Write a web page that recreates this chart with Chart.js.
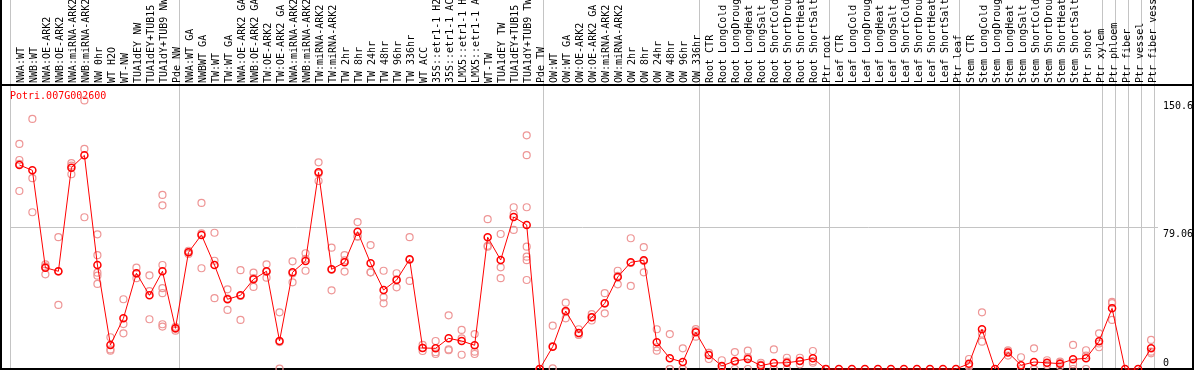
<!DOCTYPE html>
<html>
<head>
<meta charset="utf-8">
<script src="https://cdn.jsdelivr.net/npm/chart.js@4.4.1/dist/chart.umd.min.js"></script>
<style>
    html, body { margin: 0; padding: 0; background: #fff; }
    #wrap { position: relative; width: 1194px; height: 370px; }
</style>
</head>
<body>
<div id="wrap"><canvas id="probeChart"></canvas></div>
<script>
const geneId = 'Potri.007G002600';

const categories = [
    'NWA:WT', 'NWB:WT', 'NWA:OE-ARK2', 'NWB:OE-ARK2', 'NWA:miRNA-ARK2', 'NWB:miRNA-ARK2',
    'NW 0hr', 'WT H2O', 'WT-NW', 'TUA1dEY NW', 'TUA1dEY+TUB15', 'TUA1dY+TUB9 NW', 'Pde NW',
    'NWA:WT GA', 'NWBWT GA', 'TW:WT', 'TW:WT GA', 'NWA:OE-ARK2 GA', 'NWB:OE-ARK2 GA',
    'TW:OE-ARK2', 'TW:OE-ARK2 GA', 'NWA:miRNA-ARK2', 'NWB:miRNA-ARK2', 'TW:miRNA-ARK2',
    'TW:miRNA-ARK2', 'TW 2hr', 'TW 8hr', 'TW 24hr', 'TW 48hr', 'TW 96hr', 'TW 336hr',
    'WT ACC', '35S::etr1-1 H2O', '35S::etr1-1 ACC', 'LMX5::etr1-1 H2O', 'LMX5::etr1-1 ACC',
    'WT-TW', 'TUA1dEY TW', 'TUA1dEY+TUB15', 'TUA1dY+TUB9 TW', 'Pde TW',
    'OW:WT', 'OW:WT GA', 'OW:OE-ARK2', 'OW:OE-ARK2 GA', 'OW:miRNA-ARK2', 'OW:miRNA-ARK2',
    'OW 2hr', 'OW 8hr', 'OW 24hr', 'OW 48hr', 'OW 96hr', 'OW 336hr',
    'Root CTR', 'Root LongCold', 'Root LongDrought', 'Root LongHeat', 'Root LongSalt',
    'Root ShortCold', 'Root ShortDrought', 'Root ShortHeat', 'Root ShortSalt', 'Ptr root',
    'Leaf CTR', 'Leaf LongCold', 'Leaf LongDrought', 'Leaf LongHeat', 'Leaf LongSalt',
    'Leaf ShortCold', 'Leaf ShortDrought', 'Leaf ShortHeat', 'Leaf ShortSalt', 'Ptr leaf',
    'Stem CTR', 'Stem LongCold', 'Stem LongDrought', 'Stem LongHeat', 'Stem LongSalt',
    'Stem ShortCold', 'Stem ShortDrought', 'Stem ShortHeat', 'Stem ShortSalt', 'Ptr shoot',
    'Ptr xylem', 'Ptr phloem', 'Ptr fiber', 'Ptr vessel', 'Ptr fiber vessel'
];

// index of first sample in each experiment block (last = end)
const groupStarts = [0, 13, 41, 53, 63, 73, 84, 85, 86, 87, 88];

const means = [
    114.4, 111.4, 56.8, 54.8, 112.9, 119.8, 58.3, 13.5, 28.4, 53.7, 41.3, 54.8, 22.8,
    65.4, 75.2, 58.3, 39.1, 41.3, 50.3, 54.8, 15.7, 54.2, 60.6, 110.3, 55.9, 59.8, 77.0,
    59.3, 44.3, 49.9, 61.5, 11.8, 11.6, 17.2, 15.7, 13.3, 73.9, 61.1, 85.2, 80.8, 0,
    12.5, 32.5, 20.2, 29.0, 36.8, 51.6, 59.8, 61.0, 15.0, 6.0, 3.9, 20.6,
    7.9, 1.7, 4.5, 5.6, 1.9, 3.4, 3.5, 4.5, 6.0, 0,
    0, 0, 0, 0, 0, 0, 0, 0, 0, 0,
    3.0, 22.3, 0, 9.3, 2.1, 3.9, 3.5, 3.0, 5.4, 6.0, 15.5,
    34.0, 0, 0, 11.6
];

const replicates = [
    [126.2, 117.2, 115, 99.8], [140.2, 107, 87.9], [58.7, 53.1, 57.5], [73.9, 35.9, 54.6],
    [115.4, 114, 109.2], [150.6, 123.4, 85.1], [75.5, 63.8, 54, 52.3, 47.7], [17.8, 11, 10.3],
    [39.1, 25.2, 20], [56.8, 50.9, 53.5], [52.5, 43.7, 27.9],
    [97.6, 91.8, 58.3, 45.3, 42.5, 25.1, 23.8], [23.7, 21.5, 22.5],
    [66.3, 64.5, 65.4], [93.1, 76, 56.5], [76.4, 60.7, 39.7], [44.7, 33.1, 39.5],
    [55.4, 27.5, 41], [54, 46, 51], [58.7, 51.2, 54.5], [31.8, 0.2, 15.1], [60.4, 48.6, 53.6],
    [64.9, 55.1, 61.8], [115.9, 105.4, 109.6], [68, 44.1, 55.6], [63.9, 54.6, 60.9],
    [82.4, 74.2, 74.4], [69.5, 54.2, 54.2], [55.1, 40.2, 36.8], [53.7, 45.8, 50.2],
    [73.9, 49.4, 61.2], [13.5, 10.1, 11.8], [15.7, 9.4, 8.4], [30.1, 11, 10.5],
    [21.9, 8, 17.2], [19.6, 9.7, 8.4], [84, 68.6, 69.1], [75.7, 57, 50.9], [90.7, 78, 86.9],
    [131, 119.9, 90.7, 68.6, 63, 61, 49.9], [0, 0, 0],
    [24.3, 0.4, 12.8], [37.2, 28.4, 31.9], [22.3, 19.1, 19.2], [30.8, 27.2, 29],
    [42.5, 31.2, 36.7], [55.1, 47.5, 52.2], [73.3, 46.6, 59.5], [68.3, 54.2, 60.5],
    [22.3, 12.2, 10.3], [19.6, 0, 0], [11.6, 0, 0], [22.4, 18.1, 21.3],
    [9, 5.6, 9.1], [4.9, 0, 0], [9.5, 4, 0], [10.3, 6.5, 0], [3.5, 2.5, 0], [11, 0, 0],
    [6.3, 4.2, 0], [6.3, 4.6, 2.6], [10.1, 4.4, 3.5], [0, 0, 0],
    [], [], [], [], [], [], [], [], [], [],
    [5.6, 2, 1.4], [31.8, 19.8, 15.3], [], [10.5, 9.9, 7.5], [6.6, 0, 0], [11.6, 0, 0],
    [4.9, 3.3, 2.3], [4.1, 3.3, 1.7], [13.5, 2.7, 0], [10.5, 7.5, 0], [20, 14.3, 12.2],
    [37.6, 36.9, 27.5], [], [], [16.3, 9.7, 8.8]
];

const yTicks = [0, 79.06, 150.6];
const yMax = 159.24;
const xShift = 0.72;

const gridGray = '#c4c4c4';
const monoFont = { family: 'DejaVu Sans Mono', size: 10 };

function isBoundary(ctx) {
    return ctx.tick && !Number.isInteger(ctx.tick.value);
}

function noPadding(s) {
    s.paddingTop = 0;
    s.paddingBottom = 0;
    s.paddingLeft = 0;
    s.paddingRight = 0;
}

const framePlugin = {
    id: 'frame',
    beforeDatasetsDraw(chart) {
        const ctx = chart.ctx;
        ctx.save();
        ctx.strokeStyle = '#000';
        ctx.lineWidth = 2;
        ctx.beginPath();
        ctx.moveTo(1, 0); ctx.lineTo(1, 370);
        ctx.moveTo(1193, 0); ctx.lineTo(1193, 370);
        ctx.moveTo(0, 85); ctx.lineTo(1194, 85);
        ctx.moveTo(0, 369); ctx.lineTo(1194, 369);
        ctx.stroke();
        ctx.fillStyle = '#ff0000';
        ctx.font = '10px "DejaVu Sans Mono"';
        ctx.textBaseline = 'middle';
        ctx.textAlign = 'left';
        ctx.fillText(geneId, 10, 96);
        ctx.restore();
    }
};

const meanPoints = means.map((v, i) => ({ x: i, y: v }));
const repPoints = replicates.flatMap((reps, i) => reps.map(v => ({ x: i, y: v })));

new Chart(document.getElementById('probeChart'), {
    type: 'line',
    data: {
        datasets: [{
            label: 'mean',
            data: meanPoints,
            borderColor: '#ff0000',
            borderWidth: 1,
            pointRadius: 3.5,
            pointBorderWidth: 1.5,
            pointBorderColor: '#ff0000',
            pointBackgroundColor: 'rgba(0,0,0,0)',
            tension: 0,
            clip: false
        }, {
            label: 'replicates',
            data: repPoints,
            showLine: false,
            pointRadius: 3.5,
            pointBorderWidth: 1.2,
            pointBorderColor: 'rgb(238,150,150)',
            pointBackgroundColor: 'rgba(0,0,0,0)',
            clip: false
        }]
    },
    options: {
        responsive: true,
        maintainAspectRatio: false,
        animation: false,
        events: [],
        layout: { autoPadding: false, padding: { left: 10, right: 0, top: 0, bottom: 1 } },
        plugins: {
            legend: { display: false },
            tooltip: { enabled: false },
            title: { display: false }
        },
        scales: {
            x: {
                type: 'linear',
                position: 'top',
                min: -xShift,
                max: 88 - xShift + 0.02,
                afterBuildTicks: s => {
                    s.ticks = groupStarts.map(k => ({ value: k - xShift }))
                        .concat(categories.map((c, i) => ({ value: i })));
                },
                afterFit: s => { s.height = 85; noPadding(s); },
                border: { display: false },
                grid: {
                    color: ctx => isBoundary(ctx) ? gridGray : 'rgba(0,0,0,0)',
                    tickColor: ctx => isBoundary(ctx) ? gridGray : 'rgba(0,0,0,0)',
                    lineWidth: 1,
                    drawTicks: true,
                    tickLength: 85
                },
                ticks: {
                    autoSkip: false,
                    minRotation: 90,
                    maxRotation: 90,
                    padding: -83,
                    labelOffset: 14,
                    color: '#000',
                    font: monoFont,
                    callback: v => Number.isInteger(v) ? categories[v] : ''
                }
            },
            y: {
                position: 'right',
                min: 0,
                max: yMax,
                afterBuildTicks: s => { s.ticks = yTicks.map(v => ({ value: v })); },
                afterFit: s => { s.width = 39; noPadding(s); },
                border: { display: false },
                grid: {
                    color: ctx => ctx.tick && ctx.tick.value === 79.06 ? gridGray : 'rgba(0,0,0,0)',
                    drawTicks: true,
                    tickLength: 3
                },
                ticks: {
                    padding: 5,
                    color: '#000',
                    font: monoFont,
                    callback: v => v === 0 ? ['0', ''] : ['', String(v)]
                }
            }
        }
    },
    plugins: [framePlugin]
});
</script>
</body>
</html>
